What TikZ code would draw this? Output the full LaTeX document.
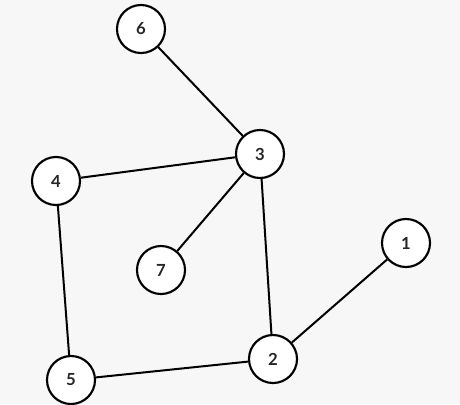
\documentclass[tikz,border=0pt]{standalone}
\usepackage{fontspec}
\setmainfont{Lato}
\begin{document}
\begin{tikzpicture}[x=0.75pt,y=-0.75pt,
  vert/.style={circle,draw=black,fill=white,line width=1.6pt,minimum size=48*0.75pt,inner sep=0pt,font=\bfseries\fontsize{12.5}{13}\selectfont,text=black!85},
  edge/.style={line width=1.5pt,draw=black}]
\fill[black!3] (0,0) rectangle (460,404);
\useasboundingbox (0,0) rectangle (460,404);
\node[vert] (n6) at (141,29) {6};
\node[vert] (n3) at (260,154) {3};
\node[vert] (n4) at (56,181) {4};
\node[vert] (n7) at (161,270) {7};
\node[vert] (n1) at (406,243) {1};
\node[vert] (n2) at (273,359) {2};
\node[vert] (n5) at (71,380) {5};
\draw[edge] (n6) -- (n3);
\draw[edge] (n4) -- (n3);
\draw[edge] (n7) -- (n3);
\draw[edge] (n3) -- (n2);
\draw[edge] (n1) -- (n2);
\draw[edge] (n5) -- (n2);
\draw[edge] (n4) -- (n5);
\end{tikzpicture}
\end{document}
